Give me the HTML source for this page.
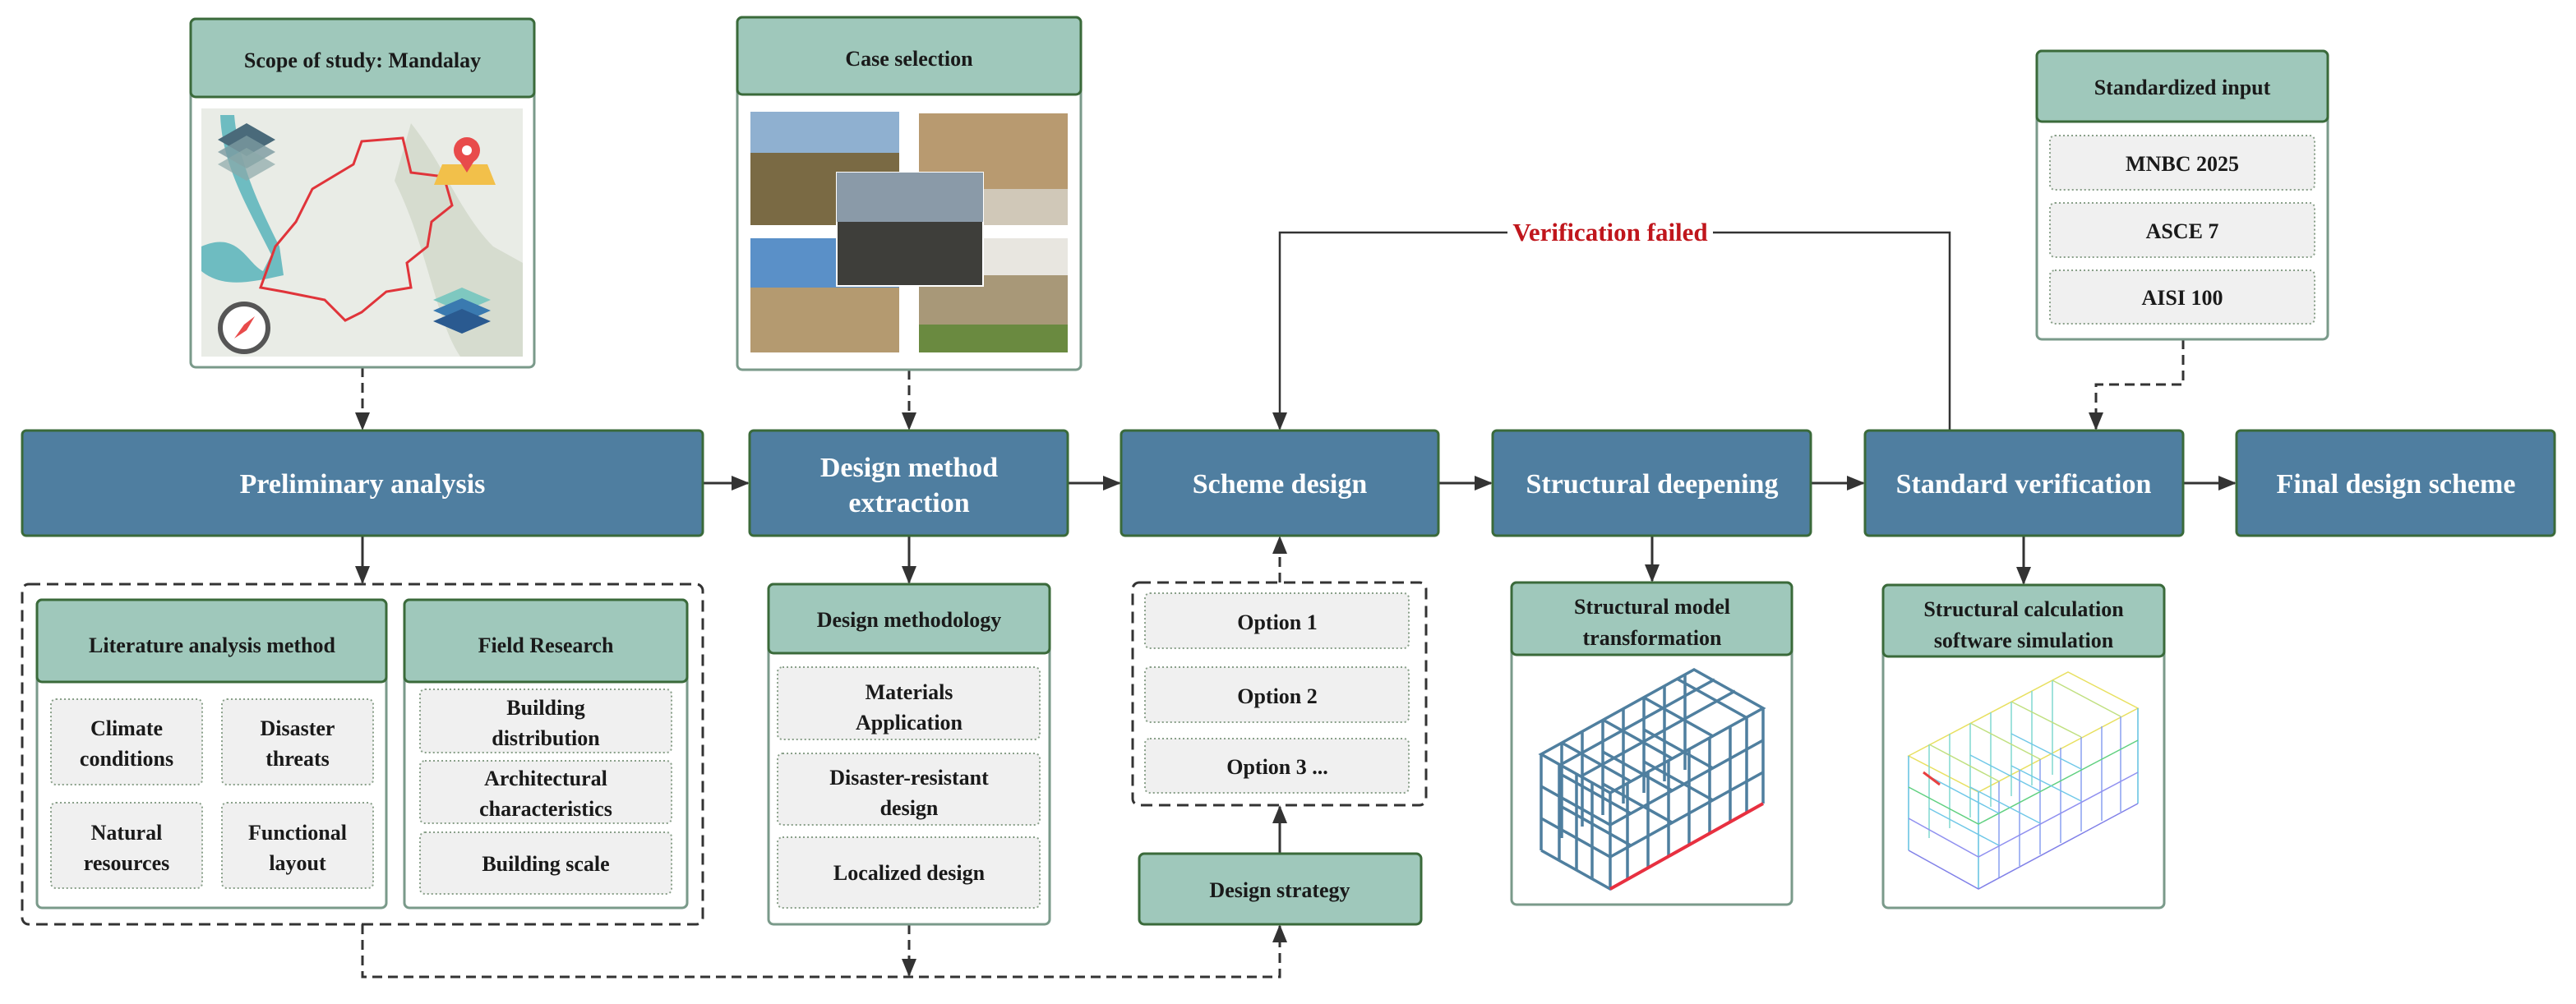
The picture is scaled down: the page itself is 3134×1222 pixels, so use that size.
<!DOCTYPE html>
<html><head><meta charset="utf-8"><style>
html,body{margin:0;padding:0;background:#fff;}
svg{display:block;}
text{font-family:"Liberation Serif",serif;font-weight:bold;}
</style></head><body>
<svg width="3134" height="1222" viewBox="0 0 3134 1222" xmlns="http://www.w3.org/2000/svg">
<defs>
<marker id="ab" markerWidth="22" markerHeight="22" refX="20" refY="11" orient="auto" markerUnits="userSpaceOnUse" viewBox="0 0 22 22">
<path d="M0,2 L22,11 L0,20 z" fill="#333"/></marker>
</defs>

<g stroke="#333" stroke-width="3" fill="none">
<line x1="441" y1="447" x2="441" y2="522" stroke-dasharray="12,7" marker-end="url(#ab)"/>
<line x1="1106" y1="450" x2="1106" y2="522" stroke-dasharray="12,7" marker-end="url(#ab)"/>
<line x1="855" y1="588" x2="910" y2="588" marker-end="url(#ab)"/>
<line x1="1299" y1="588" x2="1362" y2="588" marker-end="url(#ab)"/>
<line x1="1750" y1="588" x2="1814" y2="588" marker-end="url(#ab)"/>
<line x1="2203" y1="588" x2="2267" y2="588" marker-end="url(#ab)"/>
<line x1="2656" y1="588" x2="2719" y2="588" marker-end="url(#ab)"/>
<line x1="441" y1="652" x2="441" y2="709" marker-end="url(#ab)"/>
<line x1="1106" y1="652" x2="1106" y2="709" marker-end="url(#ab)"/>
<line x1="2010" y1="652" x2="2010" y2="707" marker-end="url(#ab)"/>
<line x1="2462" y1="652" x2="2462" y2="710" marker-end="url(#ab)"/>
<line x1="1557" y1="709" x2="1557" y2="654" stroke-dasharray="12,7" marker-end="url(#ab)"/>
<line x1="1557" y1="1039" x2="1557" y2="982" marker-end="url(#ab)"/>
<polyline points="441,1125 441,1189 1557,1189 1557,1127" stroke-dasharray="12,7" marker-end="url(#ab)"/>
<line x1="1106" y1="1125" x2="1106" y2="1187" stroke-dasharray="12,7" marker-end="url(#ab)"/>
<polyline points="2656,413 2656,468 2550,468 2550,522" stroke-dasharray="12,7" marker-end="url(#ab)"/>
<polyline points="2372,524 2372,283 1557,283 1557,522" stroke-width="2.5" marker-end="url(#ab)"/>
</g>
<rect x="1834" y="266" width="250" height="34" fill="#fff"/>
<text x="1959" y="293" font-size="31" fill="#c0161c" text-anchor="middle">Verification failed</text>

<rect x="27" y="711" width="828" height="414" rx="8" fill="none" stroke="#333" stroke-width="3" stroke-dasharray="14,8"/>
<rect x="1378" y="709" width="357" height="271" rx="8" fill="none" stroke="#333" stroke-width="3" stroke-dasharray="14,8"/>

<g fill="#4f7ea0" stroke="#3a6a3a" stroke-width="3">
<rect x="27" y="524" width="828" height="128" rx="5"/>
<rect x="912" y="524" width="387" height="128" rx="5"/>
<rect x="1364" y="524" width="386" height="128" rx="5"/>
<rect x="1816" y="524" width="387" height="128" rx="5"/>
<rect x="2269" y="524" width="387" height="128" rx="5"/>
<rect x="2721" y="524" width="387" height="128" rx="5"/>
</g>
<g fill="#fff" font-size="34" text-anchor="middle">
<text x="441" y="600">Preliminary analysis</text>
<text x="1106" y="580">Design method</text>
<text x="1106" y="623">extraction</text>
<text x="1557" y="600">Scheme design</text>
<text x="2010" y="600">Structural deepening</text>
<text x="2462" y="600">Standard verification</text>
<text x="2915" y="600">Final design scheme</text>
</g>

<g stroke="#3a6a3a" stroke-width="3">
<rect x="232" y="23" width="418" height="424" rx="6" fill="#fff" stroke="#7a9a8a"/>
<rect x="232" y="23" width="418" height="95" rx="6" fill="#9fc8bb"/>
<rect x="897" y="21" width="418" height="429" rx="6" fill="#fff" stroke="#7a9a8a"/>
<rect x="897" y="21" width="418" height="94" rx="6" fill="#9fc8bb"/>
<rect x="45" y="730" width="425" height="375" rx="6" fill="#fff" stroke="#7a9a8a"/>
<rect x="45" y="730" width="425" height="100" rx="6" fill="#9fc8bb"/>
<rect x="492" y="730" width="344" height="375" rx="6" fill="#fff" stroke="#7a9a8a"/>
<rect x="492" y="730" width="344" height="100" rx="6" fill="#9fc8bb"/>
<rect x="935" y="711" width="342" height="414" rx="6" fill="#fff" stroke="#7a9a8a"/>
<rect x="935" y="711" width="342" height="84" rx="6" fill="#9fc8bb"/>
<rect x="1386" y="1039" width="343" height="86" rx="6" fill="#9fc8bb"/>
<rect x="1839" y="709" width="341" height="392" rx="6" fill="#fff" stroke="#7a9a8a"/>
<rect x="1839" y="709" width="341" height="88" rx="6" fill="#9fc8bb"/>
<rect x="2291" y="712" width="342" height="393" rx="6" fill="#fff" stroke="#7a9a8a"/>
<rect x="2291" y="712" width="342" height="87" rx="6" fill="#9fc8bb"/>
<rect x="2478" y="62" width="354" height="351" rx="6" fill="#fff" stroke="#7a9a8a"/>
<rect x="2478" y="62" width="354" height="86" rx="6" fill="#9fc8bb"/>
</g>
<g fill="#1a1a1a" font-size="26" text-anchor="middle">
<text x="441" y="82">Scope of study: Mandalay</text>
<text x="1106" y="80">Case selection</text>
<text x="258" y="794">Literature analysis method</text>
<text x="664" y="794">Field Research</text>
<text x="1106" y="763">Design methodology</text>
<text x="1557" y="1092">Design strategy</text>
<text x="2010" y="747">Structural model</text>
<text x="2010" y="785">transformation</text>
<text x="2462" y="750">Structural calculation</text>
<text x="2462" y="788">software simulation</text>
<text x="2655" y="115">Standardized input</text>
</g>

<g fill="#f0f0f0" stroke="#8aa08a" stroke-width="2" stroke-dasharray="2,3">
<rect x="62" y="851" width="184" height="104" rx="6"/>
<rect x="270" y="851" width="184" height="104" rx="6"/>
<rect x="62" y="977" width="184" height="104" rx="6"/>
<rect x="270" y="977" width="184" height="104" rx="6"/>
<rect x="511" y="839" width="306" height="77" rx="6"/>
<rect x="511" y="926" width="306" height="76" rx="6"/>
<rect x="511" y="1013" width="306" height="75" rx="6"/>
<rect x="946" y="812" width="319" height="88" rx="6"/>
<rect x="946" y="917" width="319" height="87" rx="6"/>
<rect x="946" y="1019" width="319" height="86" rx="6"/>
<rect x="1393" y="722" width="321" height="67" rx="6"/>
<rect x="1393" y="812" width="321" height="67" rx="6"/>
<rect x="1393" y="899" width="321" height="66" rx="6"/>
<rect x="2494" y="165" width="322" height="66" rx="6"/>
<rect x="2494" y="247" width="322" height="66" rx="6"/>
<rect x="2494" y="329" width="322" height="65" rx="6"/>
</g>
<g fill="#1a1a1a" font-size="26" text-anchor="middle">
<text x="154" y="895">Climate</text><text x="154" y="932">conditions</text>
<text x="362" y="895">Disaster</text><text x="362" y="932">threats</text>
<text x="154" y="1022">Natural</text><text x="154" y="1059">resources</text>
<text x="362" y="1022">Functional</text><text x="362" y="1059">layout</text>
<text x="664" y="870">Building</text><text x="664" y="907">distribution</text>
<text x="664" y="956">Architectural</text><text x="664" y="993">characteristics</text>
<text x="664" y="1060">Building scale</text>
<text x="1106" y="851">Materials</text><text x="1106" y="888">Application</text>
<text x="1106" y="955">Disaster-resistant</text><text x="1106" y="992">design</text>
<text x="1106" y="1071">Localized design</text>
<text x="1554" y="766">Option 1</text>
<text x="1554" y="856">Option 2</text>
<text x="1554" y="942">Option 3 ...</text>
<text x="2655" y="208">MNBC 2025</text>
<text x="2655" y="290">ASCE 7</text>
<text x="2655" y="371">AISI 100</text>
</g>

<!-- map -->
<rect x="245" y="132" width="391" height="302" fill="#e9ece6"/>
<path d="M245,300 C290,280 300,320 320,330 L330,310 C300,250 270,200 268,140 L285,140 C290,200 320,260 340,300 L345,335 C300,345 270,350 245,330z" fill="#4fb0b8" opacity="0.8"/>
<path d="M500,150 C540,200 560,260 600,300 L636,320 L636,434 L560,434 C530,390 520,300 480,220z" fill="#d6dccf"/>
<path d="M317,350 L335,300 L360,270 L380,230 L430,200 L440,172 L490,168 L500,210 L540,215 L550,250 L525,270 L520,300 L495,320 L500,350 L470,355 L440,380 L420,390 L395,365 L370,360 L345,355z" fill="none" stroke="#e0343a" stroke-width="3"/>
<g transform="translate(265,150)"><path d="M0,20 L35,0 L70,20 L35,40z" fill="#4a6a7a"/><path d="M0,35 L35,15 L70,35 L35,55z" fill="#7a9aa0" opacity=".8"/><path d="M0,50 L35,30 L70,50 L35,70z" fill="#8aa8a8" opacity=".7"/></g>
<g transform="translate(528,165)"><path d="M10,35 L65,35 L75,60 L0,60z" fill="#f2c04a"/><circle cx="40" cy="18" r="16" fill="#e84b4b"/><circle cx="40" cy="18" r="6" fill="#fff"/><path d="M28,26 L40,45 L52,26z" fill="#e84b4b"/></g>
<g transform="translate(527,350)"><path d="M0,15 L35,0 L70,15 L35,30z" fill="#7ec8c0"/><path d="M0,28 L35,13 L70,28 L35,43z" fill="#3a7ab0"/><path d="M0,41 L35,26 L70,41 L35,56z" fill="#2a5a90"/></g>
<circle cx="297" cy="399" r="29" fill="#fff" stroke="#555" stroke-width="6"/><path d="M285,412 L297,395 L310,385 L300,402z" fill="#e84b4b"/>

<!-- case photos -->
<rect x="913" y="136" width="181" height="138" fill="#7a6a44"/><rect x="913" y="136" width="181" height="50" fill="#8fb0d0"/>
<rect x="1118" y="138" width="181" height="136" fill="#b89a70"/><rect x="1118" y="230" width="181" height="44" fill="#d0c8b8"/>
<rect x="913" y="290" width="181" height="139" fill="#b49a70"/><rect x="913" y="290" width="181" height="60" fill="#5a90c8"/>
<rect x="1118" y="290" width="181" height="139" fill="#a89878"/><rect x="1118" y="290" width="181" height="45" fill="#e8e6e0"/><rect x="1118" y="395" width="181" height="34" fill="#6a8a40"/>
<rect x="1018" y="210" width="178" height="138" fill="#3e3e3a" stroke="#fff" stroke-width="2"/><rect x="1018" y="210" width="178" height="60" fill="#8a9aa8"/>

<!-- structural model -->
<g stroke="#4f7f9f" stroke-width="3.5" fill="none">
<path d="M1875,918 L2061,815 L2145,862 L1959,965z"/>
<path d="M1875,918 L1875,1035 M1959,965 L1959,1082 M2145,862 L2145,978"/>
<path d="M1875,1035 L1959,1082 L2145,978"/>
<path d="M1900,904 L1900,1020 M1925,890 L1925,1006 M1950,876 L1950,992 M1975,862 L1975,978 M2000,849 L2000,965 M2025,835 L2025,951 M2050,821 L2050,937"/>
<path d="M1980,953 L1980,1070 M2005,939 L2005,1056 M2030,925 L2030,1042 M2055,911 L2055,1028 M2080,897 L2080,1014 M2105,883 L2105,1000 M2125,872 L2125,989"/>
<path d="M1875,957 L1959,1004 L2145,901 M1875,996 L1959,1043 L2145,940 M1900,930 L2086,827 M1925,944 L2111,841"/>
<path d="M1900,904 L1984,951 M1950,876 L2034,923 M2000,849 L2084,896 M2040,826 L2124,873"/>
<path d="M1900,943 L1984,990 M1950,915 L2034,962 M2000,888 L2084,935 M1900,982 L1984,1029 M1950,954 L2034,1001 M2000,927 L2084,974"/>
<path d="M1937,952 L1937,1069 M1918,941 L1918,1058 M1897,929 L1897,1046"/>
</g>
<line x1="1959" y1="1082" x2="2145" y2="978" stroke="#e83040" stroke-width="4"/>

<!-- calc model -->
<g stroke-width="1.5" fill="none">
<path d="M2322,920 L2516,818 L2601,862 L2407,964z" stroke="#e8e060"/>
<path d="M2322,920 L2322,1035 M2407,964 L2407,1082 M2601,862 L2601,978" stroke="#60c0e0"/>
<path d="M2322,1035 L2407,1082 L2601,978" stroke="#8080e8"/>
<path d="M2347,906 L2347,1020 M2372,893 L2372,1008 M2397,880 L2397,995 M2422,867 L2422,982 M2447,854 L2447,969 M2472,841 L2472,956 M2497,828 L2497,943" stroke="#80d8d0"/>
<path d="M2432,951 L2432,1068 M2457,937 L2457,1054 M2482,924 L2482,1040 M2507,910 L2507,1026 M2532,897 L2532,1012 M2557,884 L2557,999 M2580,872 L2580,988" stroke="#8aa0f0"/>
<path d="M2322,958 L2407,1003 L2601,901" stroke="#60d080"/>
<path d="M2322,996 L2407,1043 L2601,940" stroke="#9090f0"/>
<path d="M2347,906 L2432,951 M2397,880 L2482,924 M2447,854 L2532,897 M2497,828 L2580,872" stroke="#c0e080"/>
<path d="M2347,945 L2432,990 M2397,919 L2482,963 M2447,893 L2532,936 M2347,984 L2432,1029 M2397,958 L2482,1002 M2447,932 L2532,975" stroke="#70c8e8"/>
<path d="M2340,940 L2360,955" stroke="#e84040" stroke-width="3"/>
</g>
</svg>
</body></html>
